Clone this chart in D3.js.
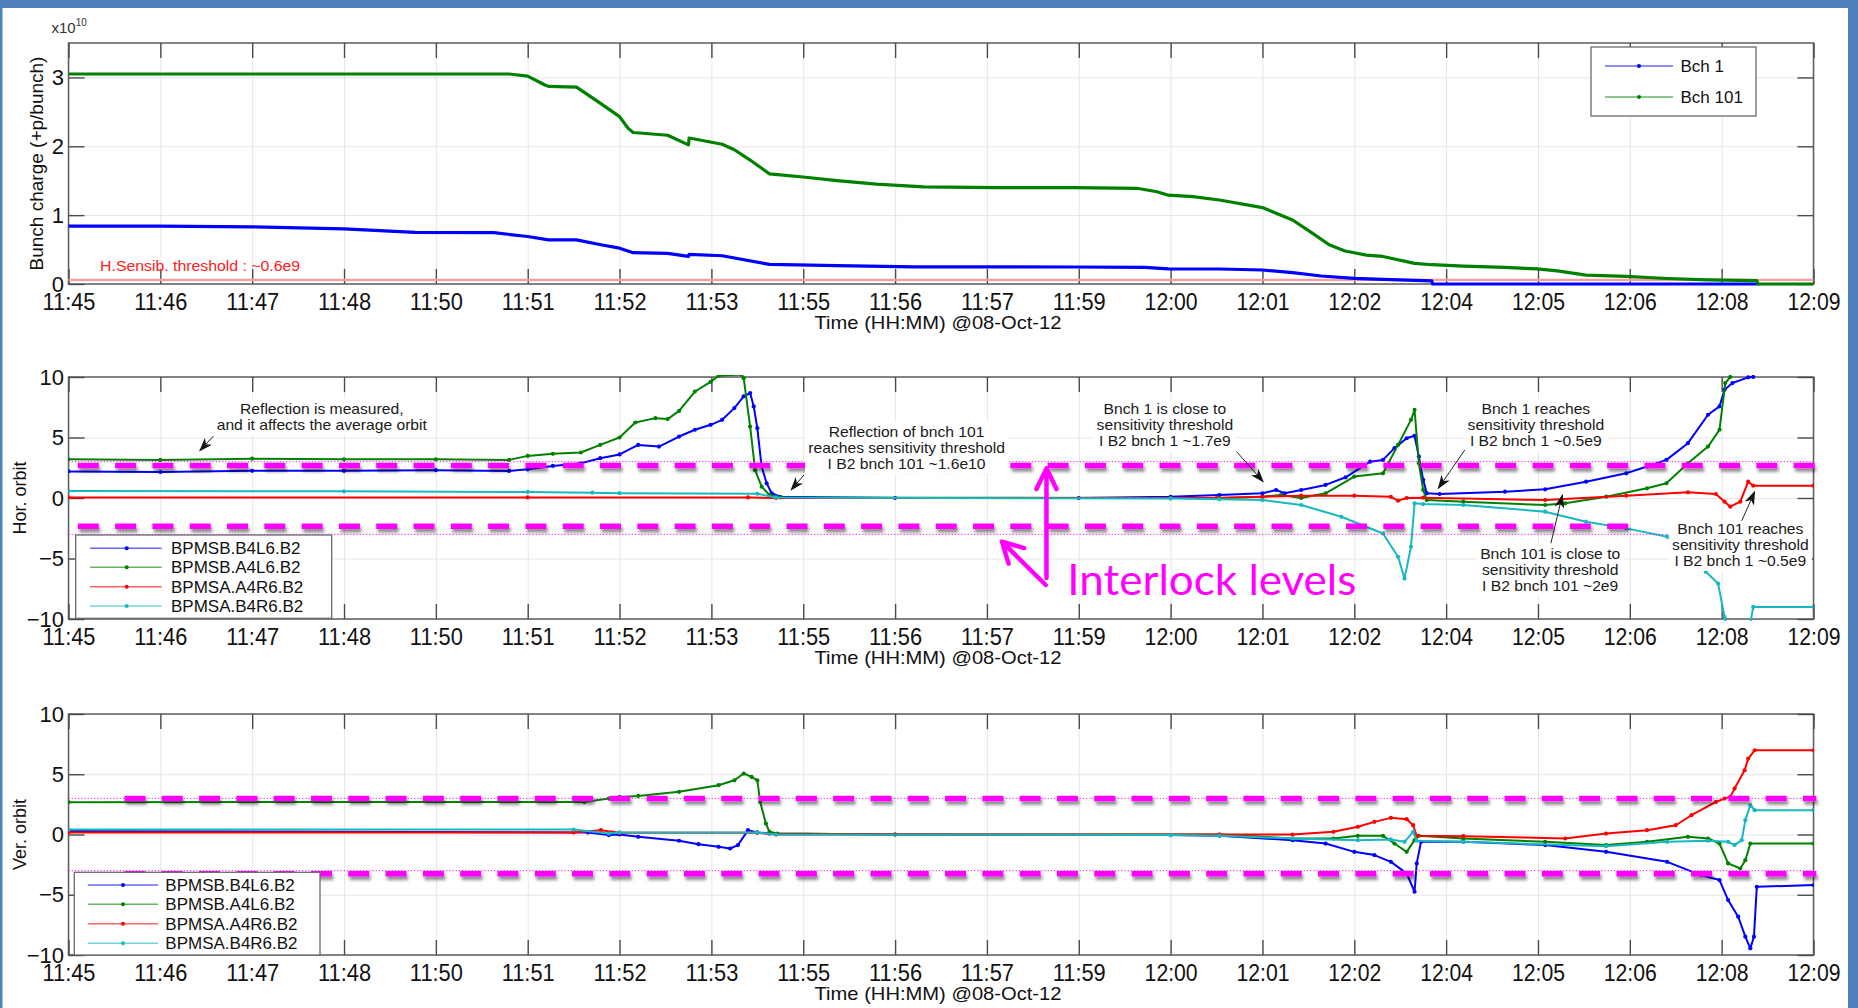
<!DOCTYPE html>
<html>
<head>
<meta charset="utf-8">
<title>Bunch charge and BPMS orbit, 08-Oct-12</title>
<script src="https://cdn.jsdelivr.net/npm/d3@7/dist/d3.min.js"></script>
<style>
  html, body { margin: 0; padding: 0; background: #fff; }
  svg { display: block; }
</style>
</head>
<body>
<svg id="fig" width="1858" height="1008"></svg>
<script>
// ---------------- time base ----------------
const sessionStart = "2012-10-08 11:45:00";
const tickStepSeconds = 76.8;
const tickCount = 20;

// ---------------- bunch charge (x1e10 p/bunch), time in minutes after start ----------------
const bch1Min = [0, 1.25, 2.56, 3.84, 4.83, 5.93, 6.40, 6.69, 7.08, 7.42, 7.68, 7.87, 8.35, 8.64, 8.65, 9.11, 9.77, 10.71, 11.78, 14.02, 15.00, 15.33, 16.04, 16.64, 17.06, 17.46, 17.92, 18.32, 19.00, 19.01, 23.55];
const bch1Val = [0.84, 0.84, 0.83, 0.80, 0.75, 0.745, 0.69, 0.64, 0.64, 0.57, 0.52, 0.455, 0.445, 0.40, 0.43, 0.41, 0.285, 0.266, 0.25, 0.247, 0.242, 0.22, 0.218, 0.203, 0.164, 0.116, 0.082, 0.068, 0.044, 0.0, 0.0];
const bch101Min = [0, 6.14, 6.40, 6.64, 6.69, 7.08, 7.42, 7.68, 7.80, 7.87, 8.35, 8.64, 8.65, 9.11, 9.28, 9.50, 9.66, 9.77, 10.27, 10.71, 11.26, 11.92, 12.92, 14.02, 14.89, 15.17, 15.33, 15.67, 16.04, 16.64, 17.06, 17.34, 17.57, 17.79, 18.09, 18.32, 18.76, 19.00, 19.44, 20.02, 20.47, 20.75, 21.15, 21.71, 22.28, 22.85, 23.53, 23.55, 24.32];
const bch101Val = [3.05, 3.05, 3.02, 2.89, 2.87, 2.86, 2.62, 2.43, 2.26, 2.20, 2.16, 2.02, 2.12, 2.03, 1.95, 1.80, 1.68, 1.60, 1.55, 1.50, 1.45, 1.41, 1.40, 1.40, 1.39, 1.34, 1.29, 1.27, 1.22, 1.11, 0.93, 0.735, 0.57, 0.48, 0.42, 0.40, 0.30, 0.28, 0.26, 0.24, 0.22, 0.19, 0.13, 0.11, 0.08, 0.06, 0.05, 0.0, 0.0];
const hSensThreshold = 0.06;

// ---------------- horizontal orbit ----------------
const horB4L6Min = [0, 1.28, 2.56, 3.84, 5.12, 6.14, 6.40, 6.75, 7.14, 7.41, 7.68, 7.94, 8.23, 8.51, 8.73, 8.95, 9.11, 9.28, 9.41, 9.50, 9.55, 9.60, 9.66, 9.73, 9.80, 9.92, 11.52, 14.08, 15.36, 16.04, 16.64, 16.83, 16.95, 17.18, 17.52, 17.80, 18.14, 18.32, 18.48, 18.65, 18.76, 18.82, 18.88, 18.93, 19.11, 20.02, 20.58, 21.15, 21.71, 22.00, 22.27, 22.57, 22.85, 23.01, 23.08, 23.19, 23.41, 23.48];
const horB4L6Val = [2.2, 2.15, 2.25, 2.25, 2.3, 2.24, 2.37, 2.65, 2.87, 3.29, 3.6, 4.39, 4.25, 5.08, 5.64, 6.05, 6.46, 7.43, 8.4, 8.67, 7.57, 5.77, 2.6, 1.22, 0.39, 0.1, 0.0, 0.0, 0.1, 0.25, 0.39, 0.66, 0.39, 0.66, 1.08, 1.71, 3.0, 3.15, 4.12, 4.94, 5.14, 3.43, 1.5, 0.39, 0.33, 0.52, 0.72, 1.35, 2.04, 2.6, 3.15, 4.53, 6.88, 7.57, 8.95, 9.5, 9.97, 10.0];
const horA4L6Min = [0, 1.28, 2.56, 3.84, 5.12, 6.14, 6.40, 6.75, 7.14, 7.41, 7.68, 7.90, 8.18, 8.35, 8.51, 8.73, 8.95, 9.06, 9.38, 9.41, 9.50, 9.57, 9.66, 9.77, 9.92, 15.36, 16.04, 16.64, 16.90, 17.18, 17.52, 17.92, 18.32, 18.53, 18.71, 18.76, 18.82, 18.88, 18.93, 19.44, 20.58, 20.86, 21.43, 22.00, 22.27, 22.57, 22.85, 23.01, 23.09, 23.16];
const horA4L6Val = [3.2, 3.15, 3.25, 3.2, 3.2, 3.15, 3.48, 3.65, 3.76, 4.39, 5.0, 6.24, 6.6, 6.52, 7.2, 8.8, 9.6, 10.1, 10.2, 9.9, 5.9, 2.3, 0.94, 0.25, 0.05, 0.0, 0.0, 0.1, 0.25, 0.0, 0.39, 1.77, 2.04, 4.39, 6.46, 7.29, 2.87, 0.66, -0.17, -0.3, -0.58, -0.44, 0.11, 0.8, 1.22, 2.87, 4.25, 5.64, 9.5, 10.0];
const horA4R6Min = [0, 6.40, 9.47, 9.86, 16.00, 16.64, 17.18, 17.92, 18.43, 18.53, 18.65, 18.88, 20.58, 21.71, 22.57, 22.96, 23.08, 23.16, 23.30, 23.41, 23.48, 24.32];
const horA4R6Val = [0.05, 0.05, 0.05, 0.0, 0.0, 0.1, 0.19, 0.19, 0.1, -0.22, 0.0, 0.03, -0.17, 0.19, 0.47, 0.33, -0.3, -0.72, -0.3, 1.35, 1.02, 1.02];
const horB4R6Min = [0, 3.84, 6.40, 7.30, 7.68, 9.60, 9.86, 15.36, 16.04, 16.64, 17.18, 17.74, 18.32, 18.53, 18.62, 18.71, 18.76, 18.88, 19.44, 20.58, 21.15, 21.71, 22.28, 22.82, 22.99, 23.08, 23.14, 23.42, 23.48, 24.32];
const horB4R6Val = [0.58, 0.55, 0.5, 0.44, 0.4, 0.35, 0.05, -0.05, -0.11, -0.17, -0.58, -1.55, -2.93, -4.86, -6.66, -4.03, -0.44, -0.5, -0.58, -1.13, -1.96, -2.51, -3.2, -6.1, -7.07, -9.83, -11, -11, -9.0, -9.0];

// ---------------- vertical orbit ----------------
const verB4L6Min = [0, 7.24, 7.53, 7.68, 7.94, 8.51, 8.78, 9.06, 9.22, 9.33, 9.47, 9.60, 9.77, 11.52, 15.36, 16.04, 17.06, 17.52, 17.92, 18.20, 18.43, 18.65, 18.76, 18.79, 18.85, 19.44, 20.58, 21.43, 22.28, 22.75, 23.01, 23.13, 23.27, 23.37, 23.44, 23.49, 23.53, 24.32];
const verB4L6Val = [0.3, 0.17, -0.05, 0.0, -0.19, -0.52, -0.8, -1.02, -1.16, -0.88, 0.36, 0.17, 0.08, 0.0, -0.05, -0.11, -0.47, -0.75, -1.44, -1.71, -2.27, -3.23, -4.75, -2.4, -0.61, -0.61, -0.88, -1.44, -2.27, -3.37, -3.78, -5.44, -6.82, -8.48, -9.45, -8.48, -4.34, -4.2];
const verA4L6Min = [0, 7.19, 7.53, 7.68, 7.94, 8.51, 9.06, 9.28, 9.41, 9.52, 9.60, 9.64, 9.72, 9.77, 9.88, 11.52, 16.04, 17.06, 17.63, 17.97, 18.32, 18.48, 18.65, 18.76, 18.82, 19.44, 20.58, 21.43, 22.00, 22.57, 22.85, 23.01, 23.13, 23.30, 23.37, 23.44, 24.32];
const verA4L6Val = [2.68, 2.7, 2.98, 3.12, 3.2, 3.54, 4.09, 4.5, 5.06, 4.78, 4.5, 2.7, 0.91, 0.22, 0.08, 0.0, 0.0, -0.33, -0.33, -0.11, -0.11, -0.75, -1.44, -0.47, -0.11, -0.33, -0.61, -0.88, -0.61, -0.19, -0.33, -0.75, -2.4, -2.82, -2.13, -0.75, -0.75];
const verA4R6Min = [0, 7.04, 7.42, 7.68, 9.60, 9.86, 16.04, 17.06, 17.63, 17.97, 18.20, 18.43, 18.65, 18.74, 18.79, 19.44, 20.86, 21.43, 22.00, 22.40, 22.62, 22.96, 23.08, 23.16, 23.22, 23.36, 23.41, 23.50, 24.32];
const verA4R6Val = [0.17, 0.17, 0.36, 0.14, 0.14, 0.0, 0.0, 0.0, 0.22, 0.64, 1.05, 1.38, 1.27, 0.77, -0.11, -0.14, -0.33, 0.08, 0.36, 0.77, 1.6, 2.7, 2.98, 3.12, 3.81, 5.33, 6.3, 6.99, 6.99];
const verB4R6Min = [0, 7.04, 7.53, 7.68, 9.60, 9.86, 15.36, 16.04, 17.06, 17.97, 18.43, 18.62, 18.74, 18.79, 19.44, 21.43, 22.28, 22.85, 23.13, 23.22, 23.32, 23.37, 23.44, 23.50, 24.32];
const verB4R6Val = [0.41, 0.41, 0.08, 0.17, 0.17, 0.0, -0.05, -0.1, -0.33, -0.47, -0.41, -0.61, 0.22, -0.52, -0.61, -0.97, -0.61, -0.52, -0.61, -0.88, -0.47, 1.19, 2.43, 2.02, 2.02];

// ---------------- names, limits ----------------
const chargeNames = ["Bch 1", "Bch 101"];
const bpmNames = ["BPMSB.B4L6.B2", "BPMSB.A4L6.B2", "BPMSA.A4R6.B2", "BPMSA.B4R6.B2"];
const orbitLimit = [3, -3];
const horInterlock = [2.69, -2.34];
const verInterlock = [2.98, -3.26];

// =====================================================================
const FONT = '"Liberation Sans", Arial, Helvetica, sans-serif';
const W = 1858, H = 1008;
const plotLeft = 68.5, plotRight = 1813.5;
const COL = { blue: "#0000ff", green: "#008000", red: "#ff0000", cyan: "#17b8c0", mag: "#ff00ff" };

const t0 = d3.timeParse("%Y-%m-%d %H:%M:%S")(sessionStart);
const atMin = m => new Date(t0.getTime() + m * 60000);
const tickDates = d3.range(tickCount).map(i => new Date(t0.getTime() + i * tickStepSeconds * 1000));
const x = d3.scaleTime().domain([tickDates[0], tickDates[tickCount - 1]]).range([plotLeft, plotRight]);
const fmt = d3.timeFormat("%H:%M");
const zip = (ts, vs) => ts.map((t, i) => ({ t: atMin(t), v: vs[i] }));

const panels = [
  { key: "charge", top: 43, bottom: 284, yDomain: [0, 3.5], yTicks: [0, 1, 2, 3], yLabel: "Bunch charge (+p/bunch)", yLabelX: 36.5, yLabelSize: 19 },
  { key: "hor", top: 377, bottom: 619, yDomain: [-10, 10], yTicks: [-10, -5, 0, 5, 10], yLabel: "Hor. orbit", yLabelX: 20, yLabelSize: 18 },
  { key: "ver", top: 714, bottom: 955, yDomain: [-10, 10], yTicks: [-10, -5, 0, 5, 10], yLabel: "Ver. orbit", yLabelX: 20, yLabelSize: 18 }
];
panels.forEach(p => { p.y = d3.scaleLinear().domain(p.yDomain).range([p.bottom, p.top]); });
const P = Object.fromEntries(panels.map(p => [p.key, p]));

const svg = d3.select("#fig");
svg.append("rect").attr("width", W).attr("height", H).attr("fill", "#fff");

// ---- defs ----
const defs = svg.append("defs");
panels.forEach(p => {
  defs.append("clipPath").attr("id", "clip-" + p.key)
    .append("rect").attr("x", plotLeft).attr("y", p.top - 2)
    .attr("width", plotRight - plotLeft).attr("height", p.bottom - p.top + 4);
});
const sh = defs.append("filter").attr("id", "dashShadow")
  .attr("filterUnits", "userSpaceOnUse").attr("x", 0).attr("y", 0).attr("width", W).attr("height", H);
sh.append("feDropShadow").attr("dx", 1.5).attr("dy", 3.5).attr("stdDeviation", 1.8)
  .attr("flood-color", "#000").attr("flood-opacity", 0.45);
defs.append("marker").attr("id", "arrowK").attr("viewBox", "0 0 14 10")
  .attr("refX", 13).attr("refY", 5).attr("markerWidth", 14).attr("markerHeight", 10)
  .attr("markerUnits", "userSpaceOnUse").attr("orient", "auto")
  .append("path").attr("d", "M0,0 L14,5 L0,10 L4,5 Z").attr("fill", "#111");

// ---- axes frames ----
function drawFrame(p) {
  const g = svg.append("g");
  const h = p.bottom - p.top, w = plotRight - plotLeft;

  g.append("g").attr("transform", `translate(0,${p.bottom})`)
    .call(d3.axisBottom(x).tickValues(tickDates).tickSize(-h).tickFormat(""))
    .call(s => s.select(".domain").remove())
    .selectAll("line").attr("stroke", "#e6e6e6").attr("stroke-width", 1);
  g.append("g").attr("transform", `translate(${plotLeft},0)`)
    .call(d3.axisLeft(p.y).tickValues(p.yTicks).tickSize(-w).tickFormat(""))
    .call(s => s.select(".domain").remove())
    .selectAll("line").attr("stroke", "#e6e6e6").attr("stroke-width", 1);

  g.append("rect").attr("x", plotLeft).attr("y", p.top).attr("width", w).attr("height", h)
    .attr("fill", "none").attr("stroke", "#5e5e5e").attr("stroke-width", 1.5);

  const ax = [
    g.append("g").attr("transform", `translate(0,${p.bottom})`)
      .call(d3.axisBottom(x).tickValues(tickDates).tickFormat(fmt).tickSizeInner(-15).tickSizeOuter(0).tickPadding(10)),
    g.append("g").attr("transform", `translate(0,${p.top})`)
      .call(d3.axisTop(x).tickValues(tickDates).tickFormat("").tickSizeInner(-15).tickSizeOuter(0)),
    g.append("g").attr("transform", `translate(${plotLeft},0)`)
      .call(d3.axisLeft(p.y).tickValues(p.yTicks).tickFormat(d3.format("d")).tickSizeInner(-16).tickSizeOuter(0).tickPadding(4.5)),
    g.append("g").attr("transform", `translate(${plotRight},0)`)
      .call(d3.axisRight(p.y).tickValues(p.yTicks).tickFormat("").tickSizeInner(-16).tickSizeOuter(0))
  ];
  ax.forEach(a => {
    a.select(".domain").remove();
    a.attr("color", "#4a4a4a");
    a.selectAll(".tick line").attr("stroke-width", 1.4);
  });
  ax[0].selectAll("text").attr("font-family", FONT).attr("font-size", 23).attr("fill", "#111")
    .attr("textLength", 53).attr("lengthAdjust", "spacingAndGlyphs");
  ax[2].selectAll("text").attr("font-family", FONT).attr("font-size", 22).attr("fill", "#111");

  g.append("text").attr("x", 938).attr("y", p.bottom + 44.5).attr("text-anchor", "middle")
    .attr("font-family", FONT).attr("font-size", 19).attr("fill", "#111")
    .attr("textLength", 247).attr("lengthAdjust", "spacingAndGlyphs")
    .text("Time (HH:MM) @08-Oct-12");

  g.append("text")
    .attr("transform", `translate(${p.yLabelX},${(p.top + p.bottom) / 2}) rotate(-90)`)
    .attr("text-anchor", "middle").attr("dy", "0.35em")
    .attr("font-family", FONT).attr("font-size", p.yLabelSize).attr("fill", "#111")
    .text(p.yLabel);
}
panels.forEach(drawFrame);

// ---- series ----
function drawSeries(p, series, opts) {
  const g = svg.append("g").attr("clip-path", `url(#clip-${p.key})`);
  const line = d3.line().x(d => x(d.t)).y(d => p.y(d.v));
  series.forEach(s => {
    g.append("path").datum(s.data).attr("d", line).attr("fill", "none")
      .attr("stroke", s.color).attr("stroke-width", opts.width)
      .attr("stroke-linejoin", "round").attr("stroke-linecap", "round");
    if (opts.markers) {
      g.append("g").selectAll("circle").data(s.data).join("circle")
        .attr("cx", d => x(d.t)).attr("cy", d => p.y(d.v)).attr("r", 2.1).attr("fill", s.color);
    }
  });
}

const chargeSeries = [
  { name: chargeNames[0], color: COL.blue, data: zip(bch1Min, bch1Val) },
  { name: chargeNames[1], color: COL.green, data: zip(bch101Min, bch101Val) }
];
const horSeries = [
  { name: bpmNames[0], color: COL.blue, data: zip(horB4L6Min, horB4L6Val) },
  { name: bpmNames[1], color: COL.green, data: zip(horA4L6Min, horA4L6Val) },
  { name: bpmNames[2], color: COL.red, data: zip(horA4R6Min, horA4R6Val) },
  { name: bpmNames[3], color: COL.cyan, data: zip(horB4R6Min, horB4R6Val) }
];
const verSeries = [
  { name: bpmNames[0], color: COL.blue, data: zip(verB4L6Min, verB4L6Val) },
  { name: bpmNames[1], color: COL.green, data: zip(verA4L6Min, verA4L6Val) },
  { name: bpmNames[2], color: COL.red, data: zip(verA4R6Min, verA4R6Val) },
  { name: bpmNames[3], color: COL.cyan, data: zip(verB4R6Min, verB4R6Val) }
];

// sensitivity threshold of the charge measurement
{
  const p = P.charge;
  svg.append("line").attr("x1", plotLeft).attr("x2", plotRight)
    .attr("y1", p.y(hSensThreshold)).attr("y2", p.y(hSensThreshold))
    .attr("stroke", "#ff9a9a").attr("stroke-width", 2.2);
  svg.append("text").attr("x", x(atMin(0.44))).attr("y", p.y(hSensThreshold) - 8.5)
    .attr("font-family", FONT).attr("font-size", 14).attr("fill", "#ff2020")
    .attr("textLength", 200).attr("lengthAdjust", "spacingAndGlyphs")
    .text("H.Sensib. threshold : ~0.6e9");
  const e = svg.append("text").attr("x", 51.5).attr("y", 33)
    .attr("font-family", FONT).attr("font-size", 15).attr("fill", "#333");
  e.append("tspan").text("x10");
  e.append("tspan").attr("font-size", 10).attr("dy", -7).text("10");
}

drawSeries(P.charge, chargeSeries, { width: 3.2, markers: false });
drawSeries(P.hor, horSeries, { width: 2, markers: true });
drawSeries(P.ver, verSeries, { width: 2, markers: true });

// ---- orbit limits (thin dotted) and interlock levels (thick dashed) ----
[P.hor, P.ver].forEach(p => {
  orbitLimit.forEach(v => {
    svg.append("line").attr("x1", plotLeft).attr("x2", plotRight)
      .attr("y1", p.y(v)).attr("y2", p.y(v))
      .attr("stroke", COL.mag).attr("stroke-width", 1).attr("stroke-dasharray", "1.2 2");
  });
});
const interlockBars = [
  { p: P.hor, v: horInterlock[0], from: 0.13, to: 24.36 },
  { p: P.hor, v: horInterlock[1], from: 0.13, to: 21.76 },
  { p: P.ver, v: verInterlock[0], from: 0.78, to: 24.36 },
  { p: P.ver, v: verInterlock[1], from: 0.78, to: 24.36 }
];
interlockBars.forEach(b => {
  svg.append("line").attr("x1", x(atMin(b.from))).attr("x2", x(atMin(b.to)))
    .attr("y1", b.p.y(b.v)).attr("y2", b.p.y(b.v))
    .attr("stroke", COL.mag).attr("stroke-width", 5.5).attr("stroke-dasharray", "21 16.3")
    .attr("filter", "url(#dashShadow)");
});

// ---- annotations on the horizontal orbit ----
const notes = [
  { lines: ["Reflection is measured,", "and it affects the average orbit"], at: [3.53, 7.36], from: [2.02, 5.12], to: [1.83, 3.9] },
  { lines: ["Reflection of bnch 101", "reaches sensitivity threshold", "I B2 bnch 101 ~1.6e10"], at: [11.68, 5.43], from: [10.25, 1.9], to: [10.07, 0.66] },
  { lines: ["Bnch 1 is close to", "sensitivity threshold", "I B2 bnch 1 ~1.7e9"], at: [15.28, 7.33], from: [16.28, 3.83], to: [16.65, 1.35] },
  { lines: ["Bnch 1 reaches", "sensitivity threshold", "I B2 bnch 1 ~0.5e9"], at: [20.45, 7.36], from: [19.46, 3.97], to: [19.09, 0.8] },
  { lines: ["Bnch 101 is close to", "sensitivity threshold", "I B2 bnch 101 ~2e9"], at: [20.65, -4.63], from: [20.66, -3.74], to: [20.82, 0.25] },
  { lines: ["Bnch 101 reaches", "sensitivity threshold", "I B2 bnch 1 ~0.5e9"], at: [23.3, -2.59], from: [23.32, -1.88], to: [23.5, 0.52] }
];
{
  const p = P.hor;
  notes.forEach(n => {
    const grp = svg.append("g")
      .attr("transform", `translate(${x(atMin(n.at[0]))},${p.y(n.at[1])}) scale(1.08,1)`);
    const box = grp.append("rect").attr("fill", "#fff");
    const txt = grp.append("text").attr("text-anchor", "middle")
      .attr("font-family", FONT).attr("font-size", 14.5).attr("fill", "#1a1a1a");
    n.lines.forEach((l, i) => txt.append("tspan").attr("x", 0).attr("y", i * 15.8).attr("dy", "0.35em").text(l));
    const bb = txt.node().getBBox();
    box.attr("x", bb.x - 3).attr("y", bb.y - 2).attr("width", bb.width + 6).attr("height", bb.height + 4);
  });
  notes.forEach(n => {
    svg.append("line")
      .attr("x1", x(atMin(n.from[0]))).attr("y1", p.y(n.from[1]))
      .attr("x2", x(atMin(n.to[0]))).attr("y2", p.y(n.to[1]))
      .attr("stroke", "#222").attr("stroke-width", 1).attr("marker-end", "url(#arrowK)");
  });

  // interlock callout
  const chevron = (tail, tip, len, ang) => {
    const a = Math.atan2(tail[1] - tip[1], tail[0] - tip[0]);
    const p1 = [tip[0] + len * Math.cos(a + ang), tip[1] + len * Math.sin(a + ang)];
    const p2 = [tip[0] + len * Math.cos(a - ang), tip[1] + len * Math.sin(a - ang)];
    svg.append("path").attr("d", `M${tail}L${tip}M${p1}L${tip}L${p2}`)
      .attr("fill", "none").attr("stroke", COL.mag).attr("stroke-width", 4.5)
      .attr("stroke-linecap", "round").attr("stroke-linejoin", "round");
  };
  const pt = (m, v) => [x(atMin(m)), p.y(v)];
  chevron(pt(13.63, -6.61), pt(13.63, 2.45), 23, 0.45);
  chevron(pt(13.62, -7.19), pt(13.01, -3.61), 23, 0.5);
  svg.append("text").attr("x", x(atMin(13.92))).attr("y", p.y(-8.02))
    .attr("font-family", "Lato, 'Open Sans', sans-serif").attr("font-size", 42).attr("fill", COL.mag)
    .attr("textLength", 289).attr("lengthAdjust", "spacingAndGlyphs")
    .text("Interlock levels");
}

// ---- legends ----
function legend(series, box, rowY, lineX, markX, textX) {
  const g = svg.append("g");
  g.append("rect").attr("x", box[0]).attr("y", box[1]).attr("width", box[2]).attr("height", box[3])
    .attr("fill", "#fff").attr("stroke", "#6a6a6a").attr("stroke-width", 1.3);
  series.forEach((s, i) => {
    const y = rowY[i];
    g.append("line").attr("x1", lineX[0]).attr("x2", lineX[1]).attr("y1", y).attr("y2", y)
      .attr("stroke", s.color).attr("stroke-opacity", 0.6).attr("stroke-width", 1.6);
    g.append("circle").attr("cx", markX).attr("cy", y).attr("r", 2).attr("fill", s.color);
    g.append("text").attr("x", textX).attr("y", y).attr("dy", "0.35em")
      .attr("font-family", FONT).attr("font-size", 17).attr("fill", "#111").text(s.name);
  });
}
legend(chargeSeries, [1591, 47, 165, 69], [66, 97], [1605, 1673], 1639, 1680.5);
legend(horSeries, [75.7, 535, 256, 83.3], [548.3, 567.3, 586.7, 606], [90, 161.7], 126.7, 171);
legend(verSeries, [74.3, 872.3, 245.7, 82.7], [885, 904.3, 923.7, 943.3], [87.8, 158], 123, 165.3);

// ---- slide frame ----
svg.append("rect").attr("x", 0).attr("y", 0).attr("width", W).attr("height", 8).attr("fill", "#4f80bd");
svg.append("rect").attr("x", 0).attr("y", 0).attr("width", 2.5).attr("height", H).attr("fill", "#4f80bd");
svg.append("rect").attr("x", 1848).attr("y", 0).attr("width", 10).attr("height", H).attr("fill", "#4f80bd");
</script>
</body>
</html>
